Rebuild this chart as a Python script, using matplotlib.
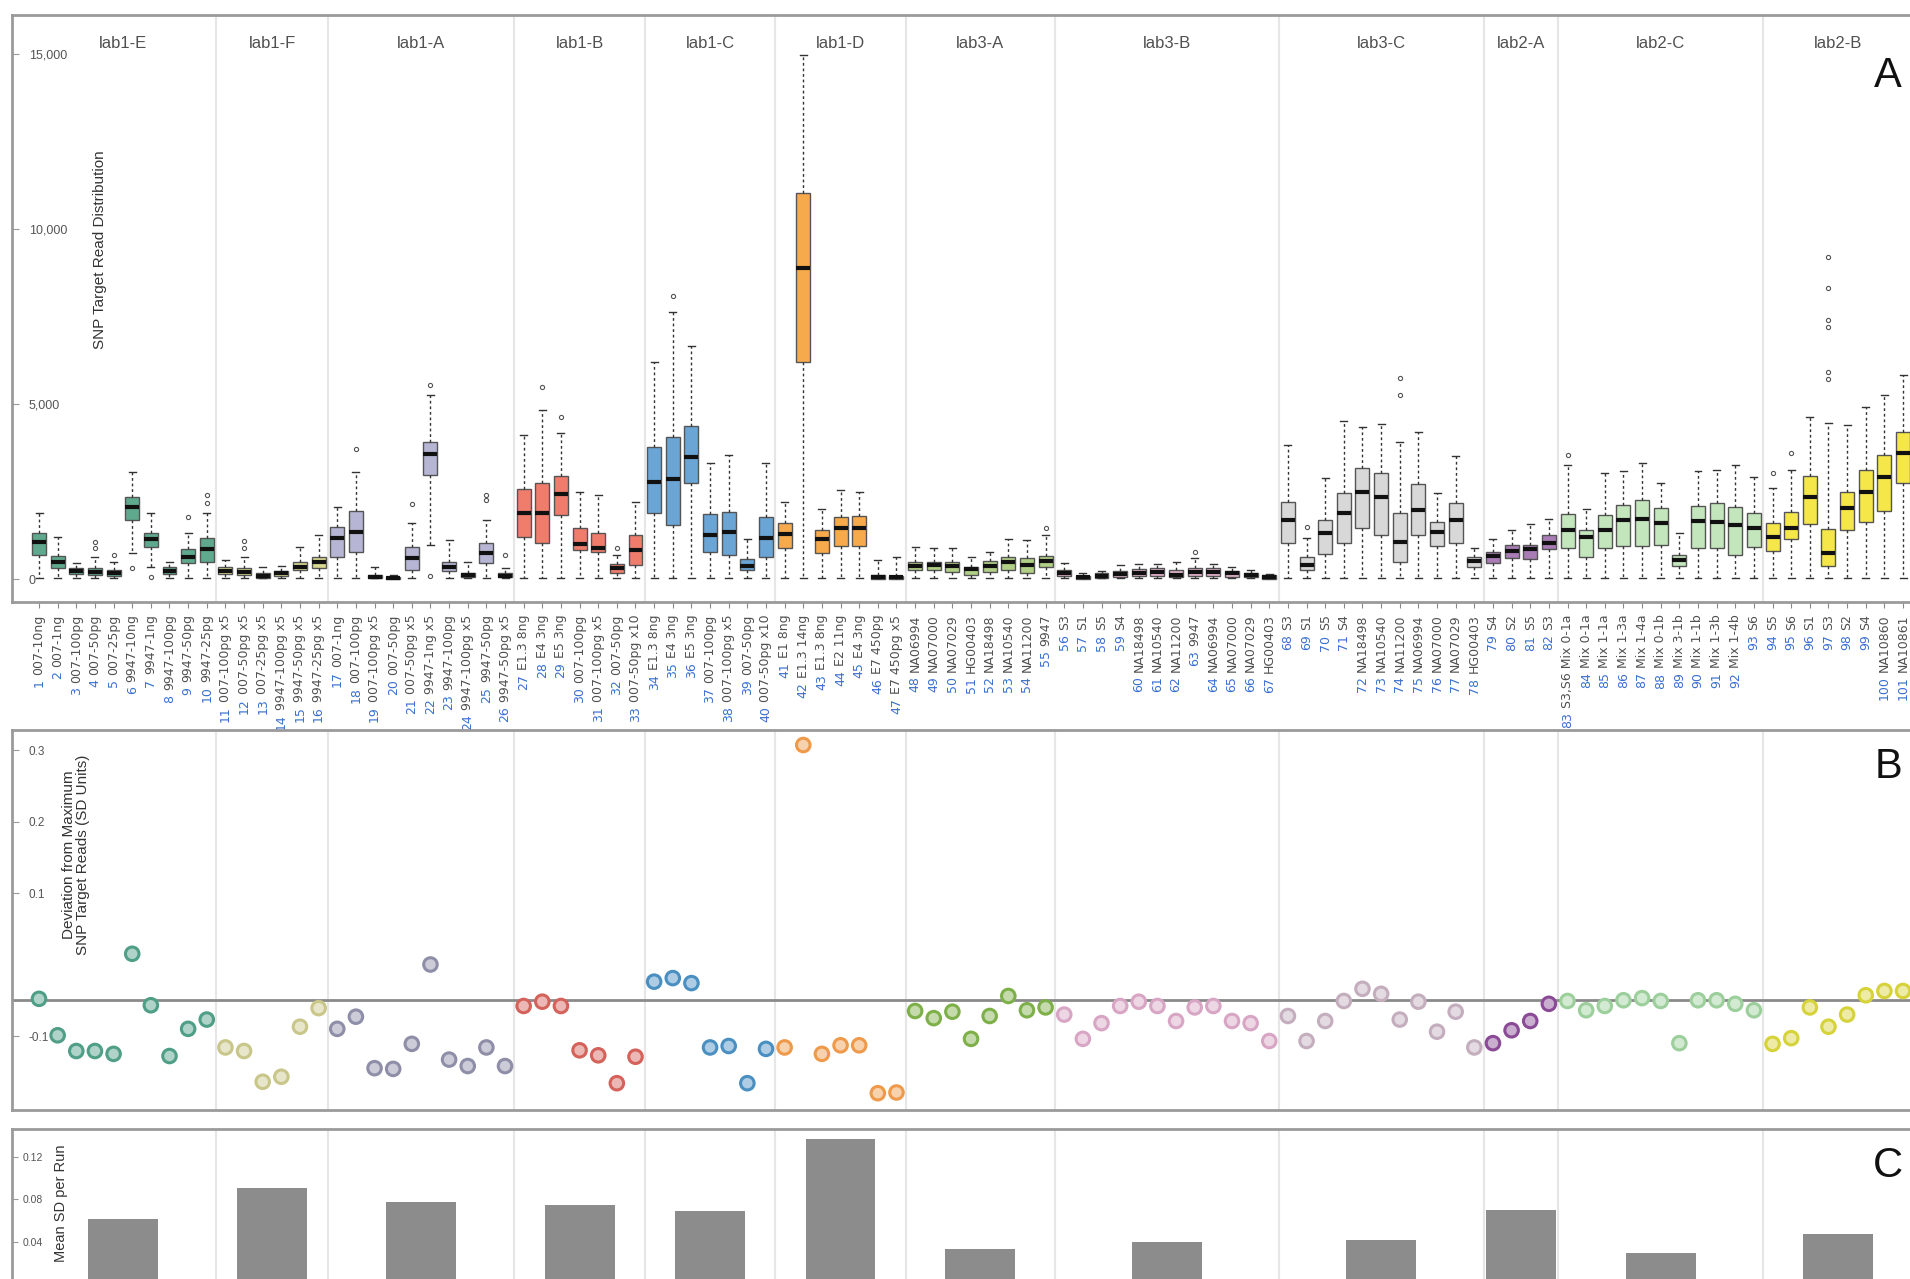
import matplotlib
matplotlib.use('Agg')
import matplotlib.pyplot as plt
import matplotlib.colors as mcolors
import numpy as np

plt.rcParams['font.family'] = ['Liberation Sans', 'DejaVu Sans']

# ---- data ----
groups = ['lab1-E', 'lab1-F', 'lab1-A', 'lab1-B', 'lab1-C', 'lab1-D',
          'lab3-A', 'lab3-B', 'lab3-C', 'lab2-A', 'lab2-C', 'lab2-B']
group_sizes = [10, 6, 10, 7, 7, 7, 8, 12, 11, 4, 11, 8]
box_colors = ['#5fa98e', '#d8d890', '#b6b6d4', '#f07c6c', '#6aa5d6', '#f6aa4c',
              '#b2cf86', '#e2b4cc', '#d8d8d8', '#a97cb6', '#c3e6bd', '#f5e64a']
point_colors = ['#4f9e86', '#c9c68a', '#8e8ea8', '#d4625a', '#4a8fc2', '#ee9a4a',
                '#7eb04a', '#d8a6c4', '#c4aebe', '#8a4a96', '#9ccf9c', '#d6d23a']

sample_names = [
    '007-10ng', '007-1ng', '007-100pg', '007-50pg', '007-25pg',
    '9947-10ng', '9947-1ng', '9947-100pg', '9947-50pg', '9947-25pg',
    '007-100pg x5', '007-50pg x5', '007-25pg x5', '9947-100pg x5', '9947-50pg x5', '9947-25pg x5',
    '007-1ng', '007-100pg', '007-100pg x5', '007-50pg', '007-50pg x5',
    '9947-1ng x5', '9947-100pg', '9947-100pg x5', '9947-50pg', '9947-50pg x5',
    'E1.3 8ng', 'E4 3ng', 'E5 3ng', '007-100pg', '007-100pg x5', '007-50pg', '007-50pg x10',
    'E1.3 8ng', 'E4 3ng', 'E5 3ng', '007-100pg', '007-100pg x5', '007-50pg', '007-50pg x10',
    'E1 8ng', 'E1.3 14ng', 'E1.3 8ng', 'E2 11ng', 'E4 3ng', 'E7 450pg', 'E7 450pg x5',
    'NA06994', 'NA07000', 'NA07029', 'HG00403', 'NA18498', 'NA10540', 'NA11200', '9947',
    'S3', 'S1', 'S5', 'S4', 'NA18498', 'NA10540', 'NA11200', '9947',
    'NA06994', 'NA07000', 'NA07029', 'HG00403',
    'S3', 'S1', 'S5', 'S4', 'NA18498', 'NA10540', 'NA11200',
    'NA06994', 'NA07000', 'NA07029', 'HG00403',
    'S4', 'S2', 'S5', 'S3',
    'S3,S6 Mix 0-1a', 'Mix 0-1a', 'Mix 1-1a', 'Mix 1-3a', 'Mix 1-4a', 'Mix 0-1b',
    'Mix 3-1b', 'Mix 1-1b', 'Mix 1-3b', 'Mix 1-4b', 'S6',
    'S5', 'S6', 'S1', 'S3', 'S2', 'S4', 'NA10860', 'NA10861']

q1 = [686, 305, 133, 114, 86, 1685, 923, 143, 447, 495,
      133, 105, 38, 86, 257, 305,
      638, 781, 19, 10, 257, 2971, 238, 67, 447, 48,
      1209, 1038, 1828, 828, 781, 181, 400,
      1876, 1542, 2733, 781, 686, 257, 619,
      876, 6200, 733, 943, 943, 10, 10,
      257, 257, 210, 114, 210, 257, 181, 352,
      86, 10, 38, 67, 86, 86, 48, 86, 86, 67, 48, 10,
      1038, 257, 714, 1019, 1466, 1257, 495, 1257, 943, 1038, 352,
      447, 590, 562, 847,
      876, 638, 876, 943, 943, 971, 371, 876, 876, 686, 923,
      809, 1133, 1571, 371, 1400, 1638, 1952, 2742]
med = [1066, 495, 238, 210, 162, 2066, 1133, 238, 619, 847,
       238, 210, 95, 162, 352, 495,
       1161, 1352, 67, 38, 590, 3571, 352, 114, 752, 95,
       1895, 1876, 2428, 990, 876, 305, 828,
       2781, 2846, 3495, 1257, 1352, 381, 1161,
       1285, 8885, 1133, 1466, 1466, 67, 48,
       381, 400, 381, 276, 381, 495, 400, 524,
       181, 48, 95, 143, 181, 200, 114, 210, 200, 162, 114, 48,
       1685, 400, 1304, 1895, 2495, 2352, 1066, 1971, 1352, 1685, 524,
       657, 809, 847, 1038,
       1400, 1190, 1400, 1685, 1714, 1609, 543, 1666, 1638, 1543, 1447,
       1209, 1447, 2333, 733, 2019, 2495, 2923, 3590]
q3 = [1304, 657, 324, 305, 257, 2333, 1304, 352, 847, 1161,
      352, 305, 181, 228, 495, 638,
      1476, 1952, 114, 67, 923, 3923, 476, 181, 1019, 162,
      2561, 2733, 2942, 1447, 1304, 419, 1257,
      3781, 4065, 4371, 1857, 1914, 571, 1780,
      1590, 11028, 1400, 1780, 1800, 114, 86,
      495, 495, 495, 352, 514, 638, 590, 657,
      257, 86, 162, 238, 276, 305, 257, 305, 305, 238, 181, 105,
      2209, 638, 1685, 2466, 3161, 3019, 1876, 2714, 1638, 2180, 619,
      781, 971, 971, 1257,
      1857, 1400, 1828, 2114, 2257, 2019, 686, 2085, 2161, 2047, 1876,
      1590, 1923, 2942, 1419, 2495, 3114, 3542, 4209]
whis_hi = [1876, 1209, 447, 638, 495, 3066, 1876, 495, 1304, 1876,
           543, 638, 352, 371, 923, 1257,
           2066, 3066, 352, 114, 1590, 5255, 1114, 495, 1685, 305,
           4114, 4828, 4161, 2495, 2400, 686, 2209,
           6209, 7640, 6657, 3304, 3542, 1133, 3304,
           2209, 14970, 1990, 2542, 2495, 543, 638,
           923, 876, 876, 619, 781, 1133, 1114, 1257,
           447, 162, 238, 400, 419, 419, 495, 590, 419, 352, 257, 143,
           3828, 1161, 2876, 4523, 4352, 4428, 3923, 4209, 2466, 3514, 876,
           1133, 1400, 1571, 1704,
           3257, 2000, 3019, 3095, 3304, 2733, 1304, 3095, 3114, 3257, 2923,
           2600, 3114, 4638, 4450, 4400, 4923, 5257, 5828]
whis_lo_default = 15
whis_lo_special = {6: 733, 7: 352, 22: 971}
outliers = {4: [876, 1066], 5: [686], 6: [305], 7: [60], 9: [1780], 10: [2161, 2400],
            12: [876, 1095], 18: [3704], 21: [2142], 22: [5540, 86], 25: [2257, 2400],
            26: [686], 28: [5476], 29: [4638], 32: [876], 35: [8090], 55: [1447],
            63: [781], 69: [1495], 74: [5255, 5733], 83: [3542], 94: [3019], 95: [3590],
            97: [5700, 5900, 7200, 7400, 8300, 9200]}

deviation = [-0.048, -0.099, -0.121, -0.121, -0.125, 0.015, -0.057, -0.128, -0.090, -0.077,
             -0.116, -0.121, -0.164, -0.157, -0.087, -0.061,
             -0.090, -0.073, -0.145, -0.146, -0.111, 0.000, -0.133, -0.142, -0.116, -0.142,
             -0.058, -0.052, -0.058, -0.120, -0.127, -0.166, -0.129,
             -0.024, -0.019, -0.026, -0.116, -0.114, -0.166, -0.118,
             -0.116, 0.307, -0.125, -0.113, -0.113, -0.180, -0.179,
             -0.065, -0.075, -0.066, -0.104, -0.072, -0.044, -0.064, -0.060,
             -0.070, -0.104, -0.082, -0.058, -0.052, -0.058, -0.079, -0.060,
             -0.058, -0.079, -0.082, -0.107,
             -0.072, -0.107, -0.079, -0.051, -0.034, -0.041, -0.077, -0.052, -0.094, -0.066, -0.116,
             -0.110, -0.092, -0.079, -0.055,
             -0.051, -0.064, -0.058, -0.050, -0.047, -0.051, -0.110, -0.050, -0.050, -0.055, -0.064,
             -0.111, -0.103, -0.060, -0.087, -0.070, -0.043, -0.037, -0.037]

mean_sd = [0.061, 0.090, 0.077, 0.074, 0.069, 0.137, 0.033, 0.040, 0.041, 0.070, 0.029, 0.047]

# ---- layout helpers ----
W, H = 1910, 1279
fig = plt.figure(figsize=(W / 100, H / 100), dpi=100)


def box_px(left, top, right, bottom):
    return [left / W, 1 - bottom / H, (right - left) / W, (bottom - top) / H]


def tint(c, amount):
    r, g, b = mcolors.to_rgb(c)
    return (r + (1 - r) * amount, g + (1 - g) * amount, b + (1 - b) * amount)


n = len(q1)
positions = np.arange(1, n + 1)
edges = np.cumsum(group_sizes)
starts = edges - np.array(group_sizes)
centers = (starts + 1 + edges) / 2
box_group = np.repeat(np.arange(len(groups)), group_sizes)
xlim = (-0.449, 102.5)
spine_col = '#9a9a9a'

axA = fig.add_axes(box_px(12, 15, 1931, 602))
axB = fig.add_axes(box_px(12, 730, 1931, 1110))
axC = fig.add_axes(box_px(12, 1129, 1931, 1284))

for ax in (axA, axB, axC):
    ax.set_xlim(*xlim)
    for s in ax.spines.values():
        s.set_color(spine_col)
        s.set_linewidth(2)
    for e in edges[:-1]:
        ax.axvline(e + 0.5, color='#e6e6e6', lw=1.5, zorder=0)

# ---- panel A: boxplots ----
stats = []
for i in range(n):
    k = i + 1
    stats.append(dict(med=med[i], q1=q1[i], q3=q3[i], whishi=whis_hi[i],
                      whislo=whis_lo_special.get(k, whis_lo_default),
                      fliers=outliers.get(k, [])))
bp = axA.bxp(stats, positions=positions, widths=0.75, patch_artist=True,
             boxprops=dict(edgecolor='#555555', linewidth=1.0),
             medianprops=dict(color='#111111', linewidth=3),
             whiskerprops=dict(color='#333333', linestyle=(0, (2, 2)), linewidth=1),
             capprops=dict(color='#333333', linewidth=1),
             flierprops=dict(marker='o', markersize=3, markerfacecolor='none',
                             markeredgecolor='#555555', markeredgewidth=0.8))
for patch, g in zip(bp['boxes'], box_group):
    patch.set_facecolor(box_colors[g])

axA.set_ylim(-657, 16114)
axA.set_yticks([0, 5000, 10000, 15000])
axA.set_yticklabels(['0', '5,000', '10,000', '15,000'])
axA.tick_params(axis='y', direction='in', length=5, color=spine_col, pad=-12,
                labelsize=9, labelcolor='#555555')
for t in axA.get_yticklabels():
    t.set_ha('left')

axA.set_xticks(positions)
axA.set_xticklabels(sample_names, rotation=90, fontsize=9, color='#505050',
                    family='DejaVu Sans', va='top', ha='center')
axA.tick_params(axis='x', direction='out', length=4, color='#888888', pad=5)

for g, c in zip(groups, centers):
    axA.text(c, 0.952, g, transform=axA.get_xaxis_transform(), ha='center', va='center',
             fontsize=12, color='#505050')

fig.canvas.draw()
for lab, num in zip(axA.get_xticklabels(), positions):
    axA.annotate(str(num), xy=(0.5, 0), xycoords=lab, xytext=(0, -3), textcoords='offset points',
                 rotation=90, ha='center', va='top', fontsize=9, color='#3a6fd0',
                 family='DejaVu Sans', annotation_clip=False)

# ---- panel B: deviation points ----
pc = [point_colors[g] for g in box_group]
axB.axhline(-0.05, color='#8a8a8a', lw=2, zorder=1)
axB.scatter(positions, deviation, s=95, facecolors=[tint(c, 0.55) for c in pc],
            edgecolors=pc, linewidths=2.2, zorder=3)
axB.set_ylim(-0.2035, 0.328)
axB.set_yticks([0.3, 0.2, 0.1, -0.1])
axB.set_yticklabels(['0.3', '0.2', '0.1', '-0.1'])
axB.tick_params(axis='y', direction='in', length=5, color=spine_col, pad=-12,
                labelsize=8.5, labelcolor='#555555')
for t in axB.get_yticklabels():
    t.set_ha('left')
axB.set_xticks([])

# ---- panel C: mean SD bars ----
axC.bar(centers, mean_sd, width=3.75, color='#8c8c8c', zorder=2)
axC.set_ylim(0, 0.146)
axC.set_yticks([0.04, 0.08, 0.12])
axC.set_yticklabels(['0.04', '0.08', '0.12'])
axC.tick_params(axis='y', direction='in', length=4, color=spine_col, pad=-8,
                labelsize=7.5, labelcolor='#555555')
for t in axC.get_yticklabels():
    t.set_ha('left')
axC.set_xticks([])

# ---- labels ----
fig.text(100 / W, 1 - 250 / H, 'SNP Target Read Distribution', rotation=90,
         ha='center', va='center', fontsize=11, color='#333333')
fig.text(76 / W, 1 - 855 / H, 'Deviation from Maximum\nSNP Target Reads (SD Units)', rotation=90,
         ha='center', va='center', fontsize=11, color='#333333', linespacing=1.05)
fig.text(61 / W, 1 - 1203 / H, 'Mean SD per Run', rotation=90,
         ha='center', va='center', fontsize=10.5, color='#333333')
for letter, y in (('A', 76), ('B', 767), ('C', 1166)):
    fig.text(1888 / W, 1 - y / H, letter, ha='center', va='center', fontsize=30, color='#111111')

fig.savefig('out.png', dpi=100)
